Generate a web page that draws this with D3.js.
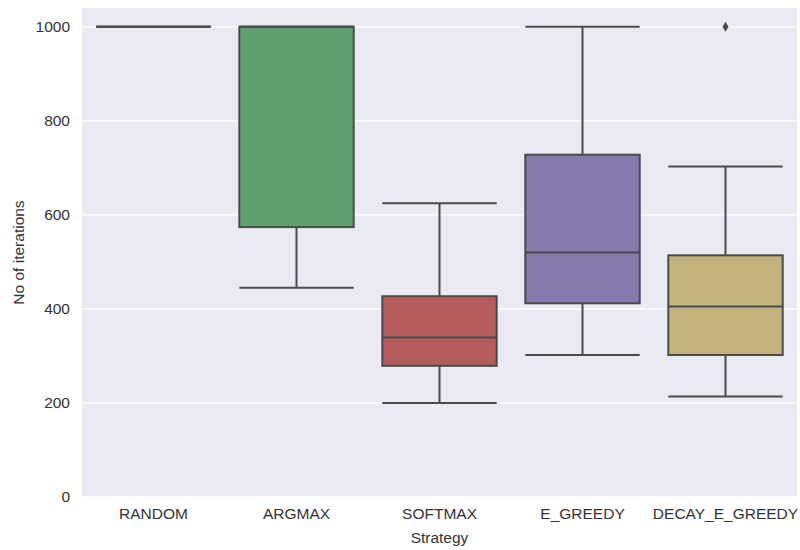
<!DOCTYPE html>
<html>
<head>
<meta charset="utf-8">
<script src="https://cdn.jsdelivr.net/npm/d3@7"></script>
<style>
  body { margin: 0; background: #ffffff; }
  svg text { font-family: "Liberation Sans", Arial, sans-serif; }
</style>
</head>
<body>
<svg id="chart" width="800" height="550"></svg>
<script>
// Strategies and their box statistics (iterations to converge)
const strategies = ["RANDOM", "ARGMAX", "SOFTMAX", "E_GREEDY", "DECAY_E_GREEDY"];
const whiskerLow  = [1000, 445, 200, 302, 214];
const q1          = [1000, 574, 279, 412, 302];
const median      = [1000, 1000, 339, 520, 405];
const q3          = [1000, 1000, 427, 728, 514];
const whiskerHigh = [1000, 1000, 625, 1000, 703];
const outliers    = [[], [], [], [], [1000]];
const boxColors   = ["#5975a4", "#5f9e6e", "#b45c5e", "#8579ad", "#c2b27d"];
const yTicks      = [0, 200, 400, 600, 800, 1000];

const svg = d3.select("#chart");
const margin = { left: 82, top: 8, right: 3, bottom: 53 };
const W = 800, H = 550;
const plotW = W - margin.left - margin.right;
const plotH = H - margin.top - margin.bottom;

const x = d3.scaleBand().domain(strategies).range([margin.left, margin.left + plotW]).paddingInner(0).paddingOuter(0);
const y = d3.scaleLinear().domain([0, 1040]).range([margin.top + plotH, margin.top]);

const lineColor = "#4b4b4b";
const lw = 2;

// plot background
svg.append("rect")
  .attr("x", margin.left).attr("y", margin.top)
  .attr("width", plotW).attr("height", plotH)
  .attr("fill", "#eaeaf2");

// horizontal grid lines
svg.append("g").selectAll("line").data(yTicks).join("line")
  .attr("x1", margin.left).attr("x2", margin.left + plotW)
  .attr("y1", d => y(d)).attr("y2", d => y(d))
  .attr("stroke", "#ffffff").attr("stroke-width", 1.3);

// y axis tick labels
const yAxis = d3.axisLeft(y).tickValues(yTicks).tickFormat(d3.format("d")).tickSize(0).tickPadding(12);
const gy = svg.append("g").attr("transform", `translate(${margin.left},0)`).call(yAxis);
gy.select(".domain").remove();
gy.selectAll("text").attr("font-size", 15.5).attr("fill", "#333333");

// x axis tick labels
const xAxis = d3.axisBottom(x).tickSize(0).tickPadding(11);
const gx = svg.append("g").attr("transform", `translate(0,${margin.top + plotH})`).call(xAxis);
gx.select(".domain").remove();
gx.selectAll("text").attr("font-size", 15.5).attr("fill", "#333333");

// axis titles
svg.append("text")
  .attr("x", margin.left + plotW / 2).attr("y", 543)
  .attr("text-anchor", "middle").attr("font-size", 15.5).attr("fill", "#333333")
  .text("Strategy");
svg.append("text")
  .attr("transform", `translate(24,${margin.top + plotH / 2}) rotate(-90)`)
  .attr("text-anchor", "middle").attr("font-size", 15.5).attr("fill", "#333333")
  .text("No of iterations");

// boxes
const boxFrac = 0.8, capFrac = 0.8;
const groups = svg.append("g").selectAll("g").data(strategies).join("g");

groups.each(function (s, i) {
  const g = d3.select(this);
  const cx = x(s) + x.bandwidth() / 2;
  const bw = x.bandwidth() * boxFrac;
  const cw = x.bandwidth() * capFrac;

  // whiskers
  g.append("line").attr("x1", cx).attr("x2", cx)
    .attr("y1", y(q3[i])).attr("y2", y(whiskerHigh[i]))
    .attr("stroke", lineColor).attr("stroke-width", lw);
  g.append("line").attr("x1", cx).attr("x2", cx)
    .attr("y1", y(q1[i])).attr("y2", y(whiskerLow[i]))
    .attr("stroke", lineColor).attr("stroke-width", lw);
  // caps
  [whiskerLow[i], whiskerHigh[i]].forEach(v => {
    g.append("line").attr("x1", cx - cw / 2).attr("x2", cx + cw / 2)
      .attr("y1", y(v)).attr("y2", y(v))
      .attr("stroke", lineColor).attr("stroke-width", lw);
  });
  // box
  g.append("rect")
    .attr("x", cx - bw / 2).attr("width", bw)
    .attr("y", y(q3[i])).attr("height", Math.max(0, y(q1[i]) - y(q3[i])))
    .attr("fill", boxColors[i]).attr("stroke", lineColor).attr("stroke-width", lw);
  // median
  g.append("line").attr("x1", cx - bw / 2).attr("x2", cx + bw / 2)
    .attr("y1", y(median[i])).attr("y2", y(median[i]))
    .attr("stroke", lineColor).attr("stroke-width", lw);
  // outliers as diamonds
  outliers[i].forEach(v => {
    g.append("path")
      .attr("d", `M${cx},${y(v) - 5} L${cx + 3},${y(v)} L${cx},${y(v) + 5} L${cx - 3},${y(v)} Z`)
      .attr("fill", lineColor);
  });
});
</script>
</body>
</html>
